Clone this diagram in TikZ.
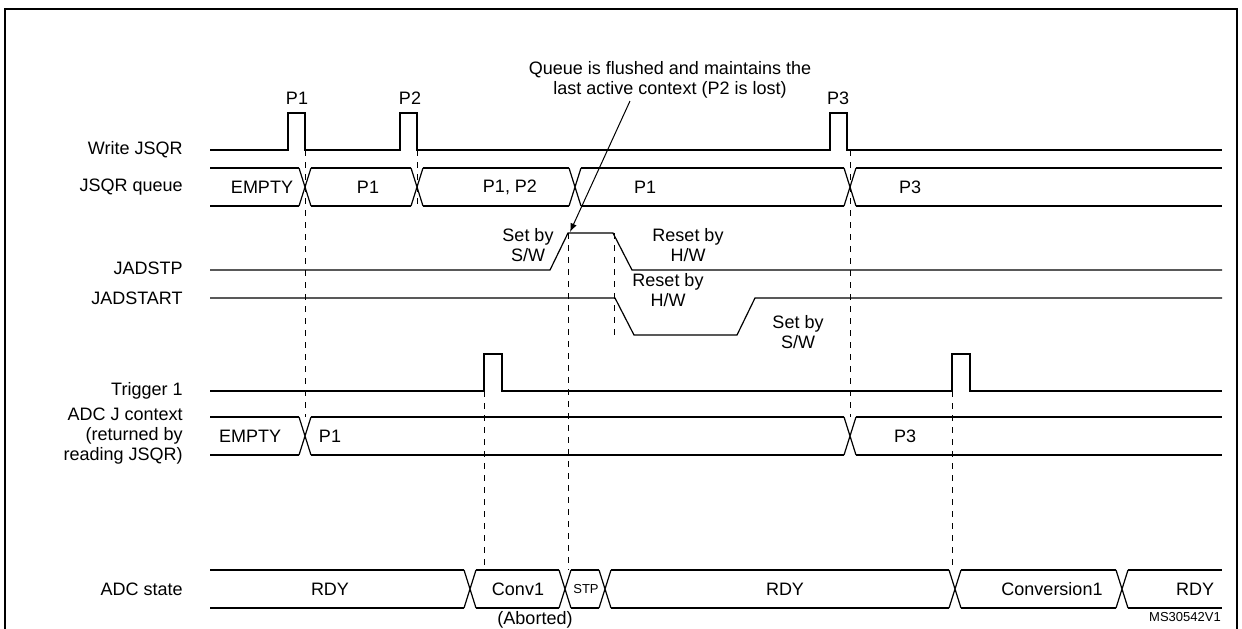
\documentclass[tikz,border=0pt]{standalone}
\usepackage{fontspec}
\setmainfont{Liberation Sans}
\usetikzlibrary{positioning}
\begin{document}
\begin{tikzpicture}[x=0.5pt,y=-0.5pt,
  sig/.style={line width=0.6pt},
  guide/.style={dashed, line width=0.4pt},
  lbl/.style={anchor=east, inner sep=0pt, font=\fontsize{9}{10}\selectfont, align=right},
  txt/.style={inner sep=0pt, font=\fontsize{9}{10}\selectfont, align=center}
]
\useasboundingbox (0,0) rectangle (1242,628);
\draw[line width=1pt] (5,640) -- (5,9) -- (1237,9) -- (1237,640);

% signal names
\node[lbl] (wr) at (183,150) {Write JSQR};
\node[lbl] (qu) at (183,187) {JSQR queue};
\node[lbl] (stp) at (183,268) {JADSTP};
\node[lbl] (sta) at (183,298) {JADSTART};
\node[lbl] (trg) at (183,391) {Trigger 1};
\node[lbl] (ctx) at (183,436) {ADC J context\\(returned by\\reading JSQR)};
\node[lbl] (st) at (183,589) {ADC state};

% Write JSQR
\draw[sig] (210,150) -- (288,150) -- (288,113) -- (305,113) -- (305,150) -- (400,150) -- (400,113)
  -- (417,113) -- (417,150) -- (830,150) -- (830,113) -- (847,113) -- (847,150) -- (1222,150);
\node[txt] (p1) at (297,98) {P1};
\node[txt] (p2) at (410,98) {P2};
\node[txt] (p3) at (838,98) {P3};

% JSQR queue
\foreach \a/\b in {210/299,311/411,423/569,581/844,856/1222}
  \draw[sig] (\a,168) -- (\b,168) (\a,206) -- (\b,206);
\foreach \c in {305,417,575,850}
  \draw[sig] (\c-6,168) -- (\c+6,206) (\c-6,206) -- (\c+6,168);
\node[txt] (q0) at (262,187) {EMPTY};
\node[txt] (q1) at (368,187) {P1};
\node[txt] (q2) at (510,187) {P1, P2};
\node[txt] (q3) at (645,187) {P1};
\node[txt] (q4) at (910,187) {P3};

% JADSTP
\draw[sig] (210,270) -- (550,270) -- (568,233) -- (613,233) -- (632,270) -- (1222,270);
\node[txt] (setsw) at (528,245) {Set by\\S/W};
\node[txt] (rsthw) at (688,245) {Reset by\\H/W};

% JADSTART
\draw[sig] (210,298) -- (615,298) -- (634,335) -- (737,335) -- (755,298) -- (1222,298);
\node[txt] (rsthw2) at (668,290) {Reset by\\H/W};
\node[txt] (setsw2) at (798,332) {Set by\\S/W};

% Trigger 1
\draw[sig] (210,391) -- (484,391) -- (484,354) -- (502,354) -- (502,391) -- (952,391)
  -- (952,354) -- (970,354) -- (970,391) -- (1222,391);

% ADC J context
\foreach \a/\b in {210/299,311/844,856/1222}
  \draw[sig] (\a,417) -- (\b,417) (\a,455) -- (\b,455);
\foreach \c in {305,850}
  \draw[sig] (\c-6,417) -- (\c+6,455) (\c-6,455) -- (\c+6,417);
\node[txt] (c0) at (250,436) {EMPTY};
\node[txt] (c1) at (330,436) {P1};
\node[txt] (c2) at (905,436) {P3};

% ADC state
\foreach \a/\b in {210/464,476/559,571/599,611/949,961/1116,1128/1222}
  \draw[sig] (\a,570) -- (\b,570) (\a,608) -- (\b,608);
\foreach \c in {470,565,605,955,1122}
  \draw[sig] (\c-6,570) -- (\c+6,608) (\c-6,608) -- (\c+6,570);
\node[txt] (s0) at (330,589) {RDY};
\node[txt] (s1) at (518,589) {Conv1};
\node[txt, font=\fontsize{6.5}{7}\selectfont] (s2) at (586,589) {STP};
\node[txt] (s3) at (785,589) {RDY};
\node[txt] (s4) at (1052,589) {Conversion1};
\node[txt] (s5) at (1195,589) {RDY};
\node[txt] (abrt) at (535,620) {(Aborted)};
\node[txt, font=\fontsize{6.5}{7}\selectfont] (ref) at (1185,617) {MS30542V1};

% guides
\draw[guide] (305,150) -- (305,417);
\draw[guide] (417,150) -- (417,206);
\draw[guide] (850,150) -- (850,417);
\draw[guide] (484,391) -- (484,570);
\draw[guide] (568,233) -- (568,570);
\draw[guide] (614,233) -- (614,335);
\draw[guide] (952,391) -- (952,570);

% note
\node[txt] (note) at (670,80) {Queue is flushed and maintains the\\last active context (P2 is lost)};
\coordinate (hit) at (570,232);
\draw[-latex, line width=0.5pt] (630,101) -- (hit);
\end{tikzpicture}
\end{document}
